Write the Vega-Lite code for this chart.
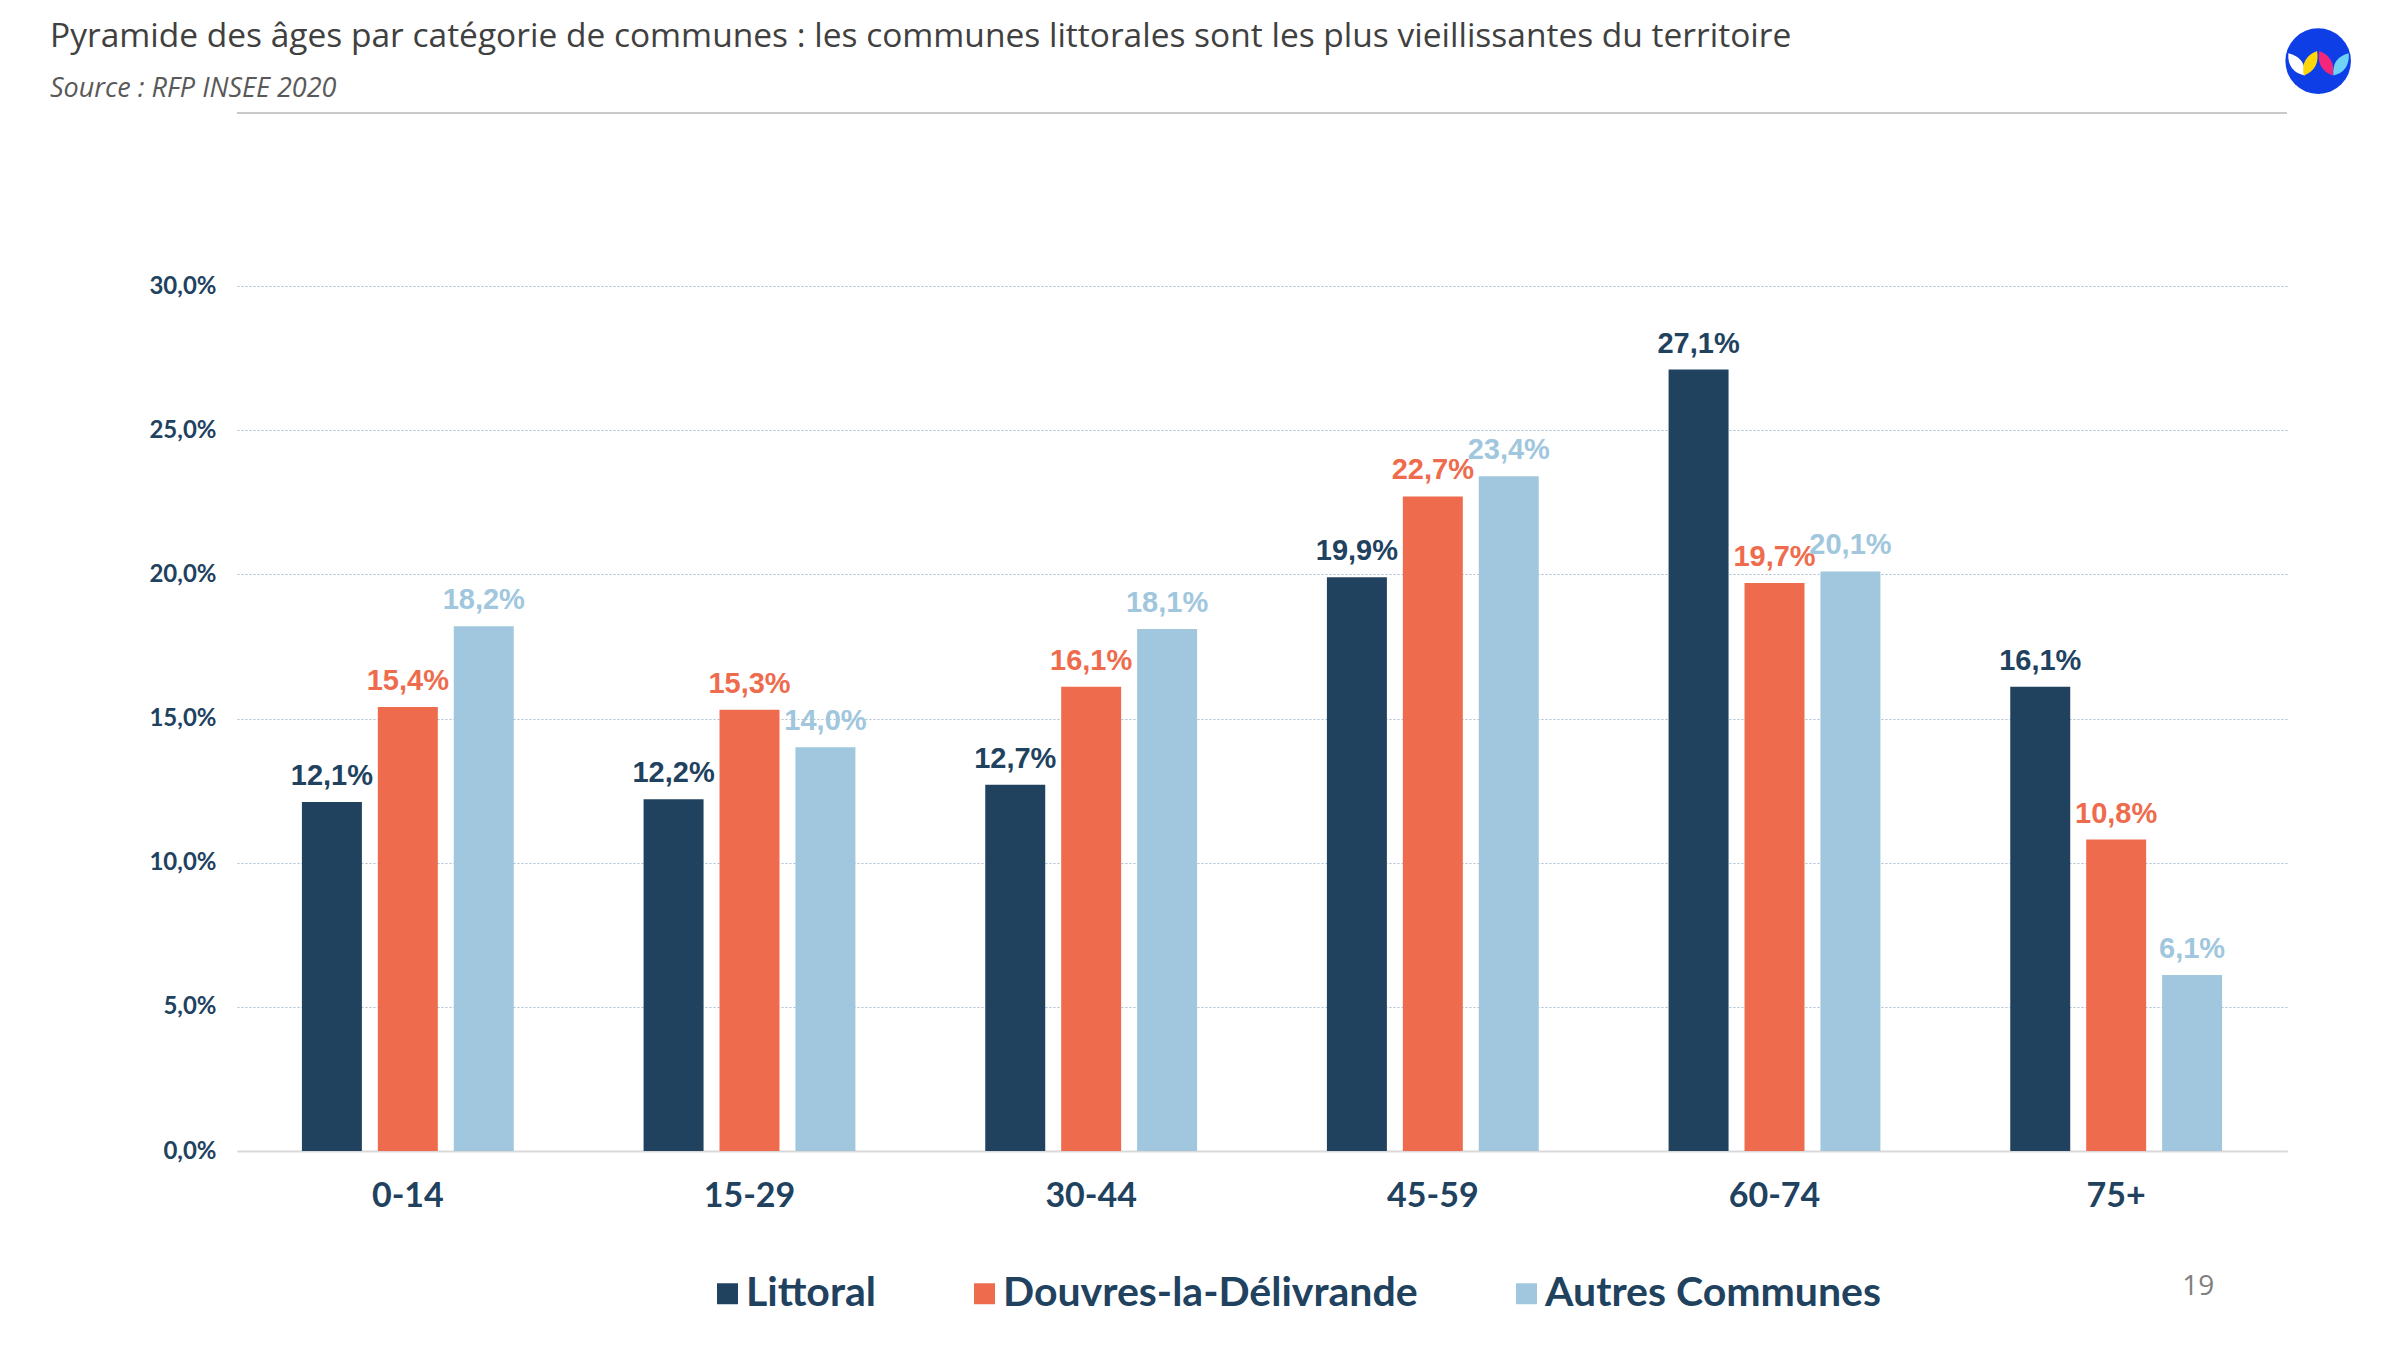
{
  "$schema": "https://vega.github.io/schema/vega-lite/v6.json",
  "width": 2050,
  "height": 865,
  "autosize": {"type": "none"},
  "padding": {"left": 237, "top": 286, "right": 113, "bottom": 199},
  "background": "white",
  "config": {
    "locale": {"number": {"decimal": ",", "thousands": " ", "grouping": [3], "currency": ["", " €"]}},
    "view": {"stroke": null}
  },
  "title": {
    "text": "Pyramide des âges par catégorie de communes : les communes littorales sont les plus vieillissantes du territoire",
    "subtitle": "Source : RFP INSEE 2020",
    "anchor": "start",
    "frame": "group",
    "dx": -187,
    "offset": -75,
    "font": "Open Sans",
    "fontSize": 33.5,
    "fontWeight": "normal",
    "color": "#404040",
    "subtitleFont": "Open Sans",
    "subtitleFontSize": 27,
    "subtitleFontStyle": "italic",
    "subtitleColor": "#595959",
    "subtitlePadding": 22
  },
  "datasets": {
    "ages": [
      {"age": "0-14", "serie": "Littoral", "part": 0.121},
      {"age": "0-14", "serie": "Douvres-la-Délivrande", "part": 0.154},
      {"age": "0-14", "serie": "Autres Communes", "part": 0.182},
      {"age": "15-29", "serie": "Littoral", "part": 0.122},
      {"age": "15-29", "serie": "Douvres-la-Délivrande", "part": 0.153},
      {"age": "15-29", "serie": "Autres Communes", "part": 0.140},
      {"age": "30-44", "serie": "Littoral", "part": 0.127},
      {"age": "30-44", "serie": "Douvres-la-Délivrande", "part": 0.161},
      {"age": "30-44", "serie": "Autres Communes", "part": 0.181},
      {"age": "45-59", "serie": "Littoral", "part": 0.199},
      {"age": "45-59", "serie": "Douvres-la-Délivrande", "part": 0.227},
      {"age": "45-59", "serie": "Autres Communes", "part": 0.234},
      {"age": "60-74", "serie": "Littoral", "part": 0.271},
      {"age": "60-74", "serie": "Douvres-la-Délivrande", "part": 0.197},
      {"age": "60-74", "serie": "Autres Communes", "part": 0.201},
      {"age": "75+", "serie": "Littoral", "part": 0.161},
      {"age": "75+", "serie": "Douvres-la-Délivrande", "part": 0.108},
      {"age": "75+", "serie": "Autres Communes", "part": 0.061}
    ]
  },
  "layer": [
    {
      "data": {"name": "ages"},
      "mark": {"type": "bar"},
      "encoding": {
        "x": {
          "field": "age",
          "type": "nominal",
          "sort": null,
          "scale": {"paddingInner": 0.38, "paddingOuter": 0.19},
          "axis": {
            "title": null,
            "labelAngle": 0,
            "labelFont": "Lato",
            "labelFontWeight": "bold",
            "labelFontSize": 34,
            "labelColor": "#21425F",
            "labelPadding": 28,
            "ticks": false,
            "domain": true,
            "domainColor": "#D9D9D9",
            "domainWidth": 2,
            "grid": false
          }
        },
        "xOffset": {
          "field": "serie",
          "type": "nominal",
          "sort": ["Littoral", "Douvres-la-Délivrande", "Autres Communes"],
          "scale": {"paddingInner": 0.21, "paddingOuter": 0}
        },
        "y": {
          "field": "part",
          "type": "quantitative",
          "scale": {"domain": [0, 0.3], "nice": false, "zero": true},
          "axis": {
            "title": null,
            "values": [0, 0.05, 0.1, 0.15, 0.2, 0.25, 0.3],
            "format": ".1%",
            "labelFont": "Lato",
            "labelFontWeight": "bold",
            "labelFontSize": 24,
            "labelColor": "#21425F",
            "labelPadding": 21,
            "domain": false,
            "ticks": false,
            "grid": true,
            "gridColor": "#A9BFD1",
            "gridDash": [2, 2],
            "gridWidth": 1
          }
        },
        "color": {
          "field": "serie",
          "type": "nominal",
          "scale": {
            "domain": ["Littoral", "Douvres-la-Délivrande", "Autres Communes"],
            "range": ["#21425F", "#EE6C4D", "#A0C7DD"]
          },
          "legend": {
            "title": null,
            "orient": "none",
            "direction": "horizontal",
            "legendX": 470,
            "legendY": 987,
            "symbolType": "square",
            "symbolSize": 440,
            "symbolStrokeWidth": 0,
            "labelFont": "Lato",
            "labelFontWeight": "bold",
            "labelFontSize": 41,
            "labelColor": "#21425F",
            "labelOffset": -2,
            "columnPadding": 88,
            "labelLimit": 600,
            "padding": 0
          }
        }
      }
    },
    {
      "data": {"name": "ages"},
      "mark": {
        "type": "text",
        "font": "Liberation Sans",
        "fontWeight": "bold",
        "fontSize": 29,
        "baseline": "alphabetic",
        "dy": -17
      },
      "encoding": {
        "x": {"field": "age", "type": "nominal", "sort": null},
        "xOffset": {
          "field": "serie",
          "type": "nominal",
          "sort": ["Littoral", "Douvres-la-Délivrande", "Autres Communes"]
        },
        "y": {"field": "part", "type": "quantitative"},
        "text": {"field": "part", "type": "quantitative", "format": ".1%"},
        "color": {"field": "serie", "type": "nominal", "legend": null}
      }
    },
    {
      "data": {"values": [{"ligne": "en-tête"}]},
      "mark": {"type": "rule", "color": "#C9C9C9", "strokeWidth": 2},
      "encoding": {"y": {"datum": 0.36}}
    },
    {
      "data": {"values": [{"page": "19"}]},
      "mark": {
        "type": "text",
        "font": "Open Sans",
        "fontSize": 28,
        "color": "#7F7F7F",
        "baseline": "middle",
        "dx": 82
      },
      "encoding": {
        "x": {"datum": "75+"},
        "y": {"datum": -0.0472},
        "text": {"field": "page"}
      }
    },
    {
      "data": {"values": [{"logo": "cercle"}]},
      "mark": {"type": "point", "shape": "circle", "size": 4300, "filled": true, "color": "#0E3FE6", "opacity": 1, "strokeWidth": 0, "xOffset": 202},
      "encoding": {"x": {"datum": "75+"}, "y": {"datum": 0.378}}
    },
    {
      "data": {"values": [{"logo": "pétale blanc"}]},
      "mark": {"type": "point", "shape": "M -0.83 -0.22 Q -0.86 0.29 -0.37 0.40 Q -0.34 -0.11 -0.83 -0.22 Z", "size": 5184, "filled": true, "color": "#FFFFFF", "opacity": 1, "strokeWidth": 0, "xOffset": 202},
      "encoding": {"x": {"datum": "75+"}, "y": {"datum": 0.378}}
    },
    {
      "data": {"values": [{"logo": "pétale jaune"}]},
      "mark": {"type": "point", "shape": "M -0.03 -0.28 Q 0.06 0.22 -0.40 0.40 Q -0.50 -0.10 -0.03 -0.28 Z", "size": 5184, "filled": true, "color": "#FFD60A", "opacity": 1, "strokeWidth": 0, "xOffset": 202},
      "encoding": {"x": {"datum": "75+"}, "y": {"datum": 0.378}}
    },
    {
      "data": {"values": [{"logo": "pétale rose"}]},
      "mark": {"type": "point", "shape": "M 0.03 -0.28 Q -0.06 0.22 0.40 0.40 Q 0.50 -0.10 0.03 -0.28 Z", "size": 5184, "filled": true, "color": "#F2267A", "opacity": 1, "strokeWidth": 0, "xOffset": 202},
      "encoding": {"x": {"datum": "75+"}, "y": {"datum": 0.378}}
    },
    {
      "data": {"values": [{"logo": "pétale bleu"}]},
      "mark": {"type": "point", "shape": "M 0.85 -0.22 Q 0.88 0.29 0.42 0.40 Q 0.38 -0.11 0.85 -0.22 Z", "size": 5184, "filled": true, "color": "#6FD3F7", "opacity": 1, "strokeWidth": 0, "xOffset": 202},
      "encoding": {"x": {"datum": "75+"}, "y": {"datum": 0.378}}
    }
  ]
}
